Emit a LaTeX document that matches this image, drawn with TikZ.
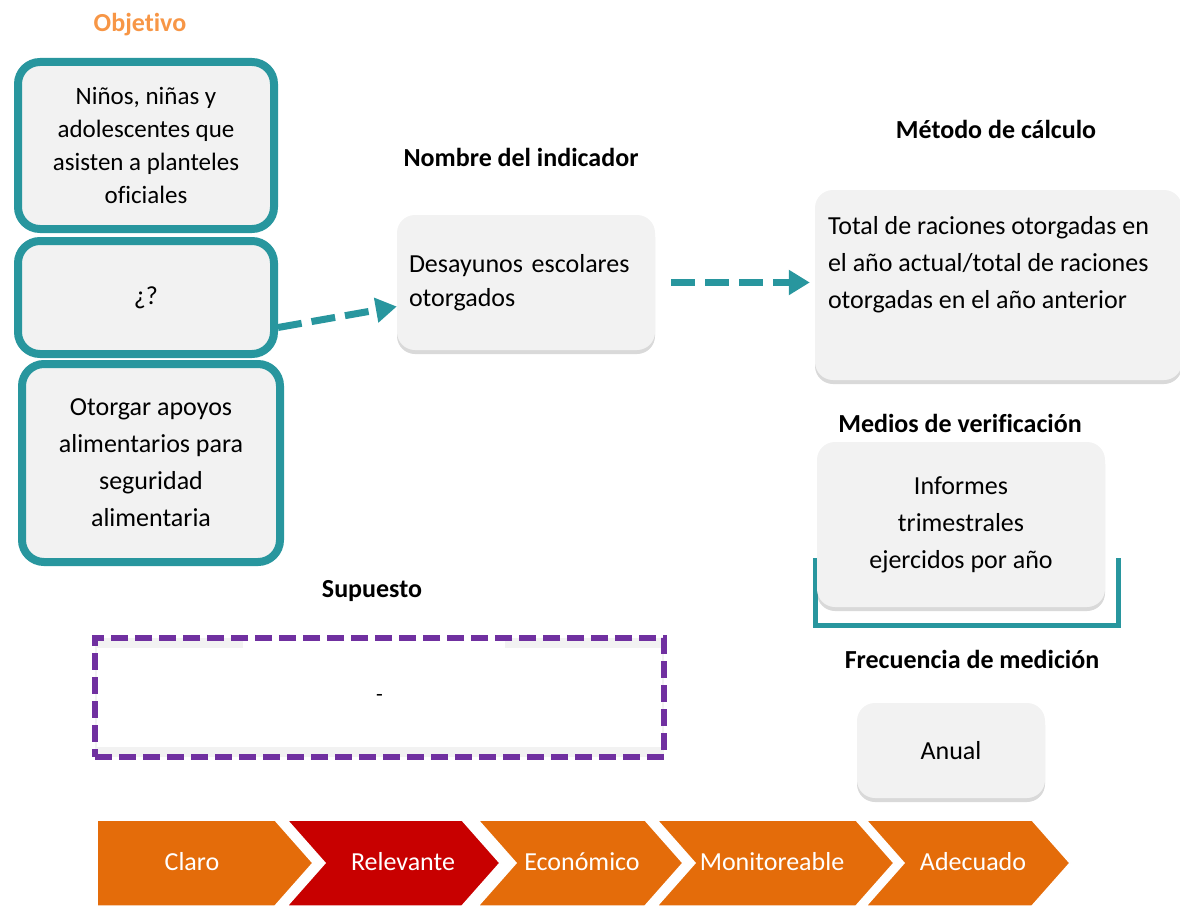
\documentclass[tikz,border=0pt]{standalone}
\usepackage{fontspec}
\setmainfont{Carlito}[Ligatures={NoCommon}]
\usetikzlibrary{positioning, arrows.meta, shadows}
\definecolor{tealline}{RGB}{40,150,158}
\definecolor{boxgray}{RGB}{242,242,242}
\definecolor{headorange}{RGB}{247,150,70}
\definecolor{chevorange}{RGB}{228,108,10}
\definecolor{chevred}{RGB}{200,0,0}
\definecolor{supviolet}{RGB}{112,48,160}

\begin{document}
\begin{tikzpicture}[x=1pt, y=-1pt]
\tikzstyle{objbox} = [draw=tealline, line width=8pt, fill=boxgray, rounded corners=22pt, align=center]
\tikzstyle{graybox} = [fill=boxgray, rounded corners=18pt, drop shadow={shadow xshift=0pt, shadow yshift=-4pt, opacity=0.3}]
\tikzstyle{head} = [font=\fontsize{26}{30}\selectfont\bfseries]
\tikzstyle{body} = [font=\fontsize{26}{37}\selectfont]
\tikzstyle{flow} = [draw=tealline, line width=7pt, dash pattern=on 24pt off 10pt, -{Triangle[length=21pt,width=24pt]}]
\tikzstyle{chev} = [draw=white, line width=1.5pt]

\useasboundingbox (0,0) rectangle (1180,907);

    % objective column
    \node[head, text=headorange] (objtitle) at (140,25) {Objetivo};
    \node[objbox, minimum width=256pt, minimum height=167pt, font=\fontsize{25}{33}\selectfont] (obj1) at (146,145.5) {Niños, niñas y\\adolescentes que\\asisten a planteles\\oficiales};
    \node[objbox, minimum width=256pt, minimum height=113pt, body] (obj2) at (146,297.5) {¿?};
    \node[objbox, minimum width=258pt, minimum height=198pt, body] (obj3) at (151,463) {Otorgar apoyos\\alimentarios para\\seguridad\\alimentaria};

    % indicator
    \node[head] (nomtitle) at (521,157) {Nombre del indicador};
    \node[graybox, font=\fontsize{26}{34}\selectfont, text width=234pt, inner xsep=12pt, align=left, minimum height=135pt] (desay) at (526,282.5) {Desayunos escolares\\otorgados};

    % calculation
    \node[head] (mettitle) at (996,129) {Método de cálculo};
    \node[graybox, minimum width=367pt, minimum height=190pt] (metodo) at (998.5,285) {};
    \node[body, align=left, anchor=north west, inner sep=0pt] (mettxt) at ([shift={(13,26)}]metodo.north west) {Total de raciones otorgadas en\\el año actual/total de raciones\\otorgadas en el año anterior};

    % verification
    \node[head] (medtitle) at (960,423) {Medios de verificación};
    \draw[tealline, line width=5pt] (815,558) |- (1118,625) -- (1118,558);
    \node[graybox, minimum width=288pt, minimum height=165pt, body, align=center] (informes) at (961,524.5) {Informes\\trimestrales\\ejercidos por año};

    % frequency
    \node[head] (fretitle) at (972,659) {Frecuencia de medición};
    \node[graybox, minimum width=188pt, minimum height=95pt, body] (anual) at (951,750.5) {Anual};

    % assumption
    \node[head] (suptitle) at (372,591) {Supuesto};
    \fill[boxgray] (95,638) rectangle (664,757);
    \fill[white] (97,648) rectangle (662,747);
    \fill[white] (243,636) rectangle (505,649);
    \node[draw=supviolet, line width=6pt, dash pattern=on 17pt off 7pt, minimum width=569pt, minimum height=119pt, font=\fontsize{22}{26}\selectfont] (supuesto) at (379.5,697.5) {-};

    % arrows
    \coordinate (qstart) at ([yshift=-30pt]obj2.east);
    \draw[flow] (qstart) -- ([yshift=-24pt]desay.west);
    \draw[flow] ([xshift=16pt]desay.east) -- ([xshift=-5pt]desay.east -| metodo.west);

    % criteria chevrons
    \foreach \xa/\xb/\nt/\col/\tx/\lab [count=\i] in {97/275/0/chevorange/192/Claro, 287/462/38/chevred/403/Relevante, 478/645/38/chevorange/582/Económico, 657/856/38/chevorange/772/Monitoreable, 866/1032/38/chevorange/973/Adecuado}{
        \fill[chev, fill=\col] (\xa,820) -- (\xb,820) -- (\xb+38,863) -- (\xb,906) -- (\xa,906) -- (\xa+\nt,863) -- cycle;
        \node[body, text=white] (crit\i) at (\tx,862) {\lab};
    }

\end{tikzpicture}
\end{document}
